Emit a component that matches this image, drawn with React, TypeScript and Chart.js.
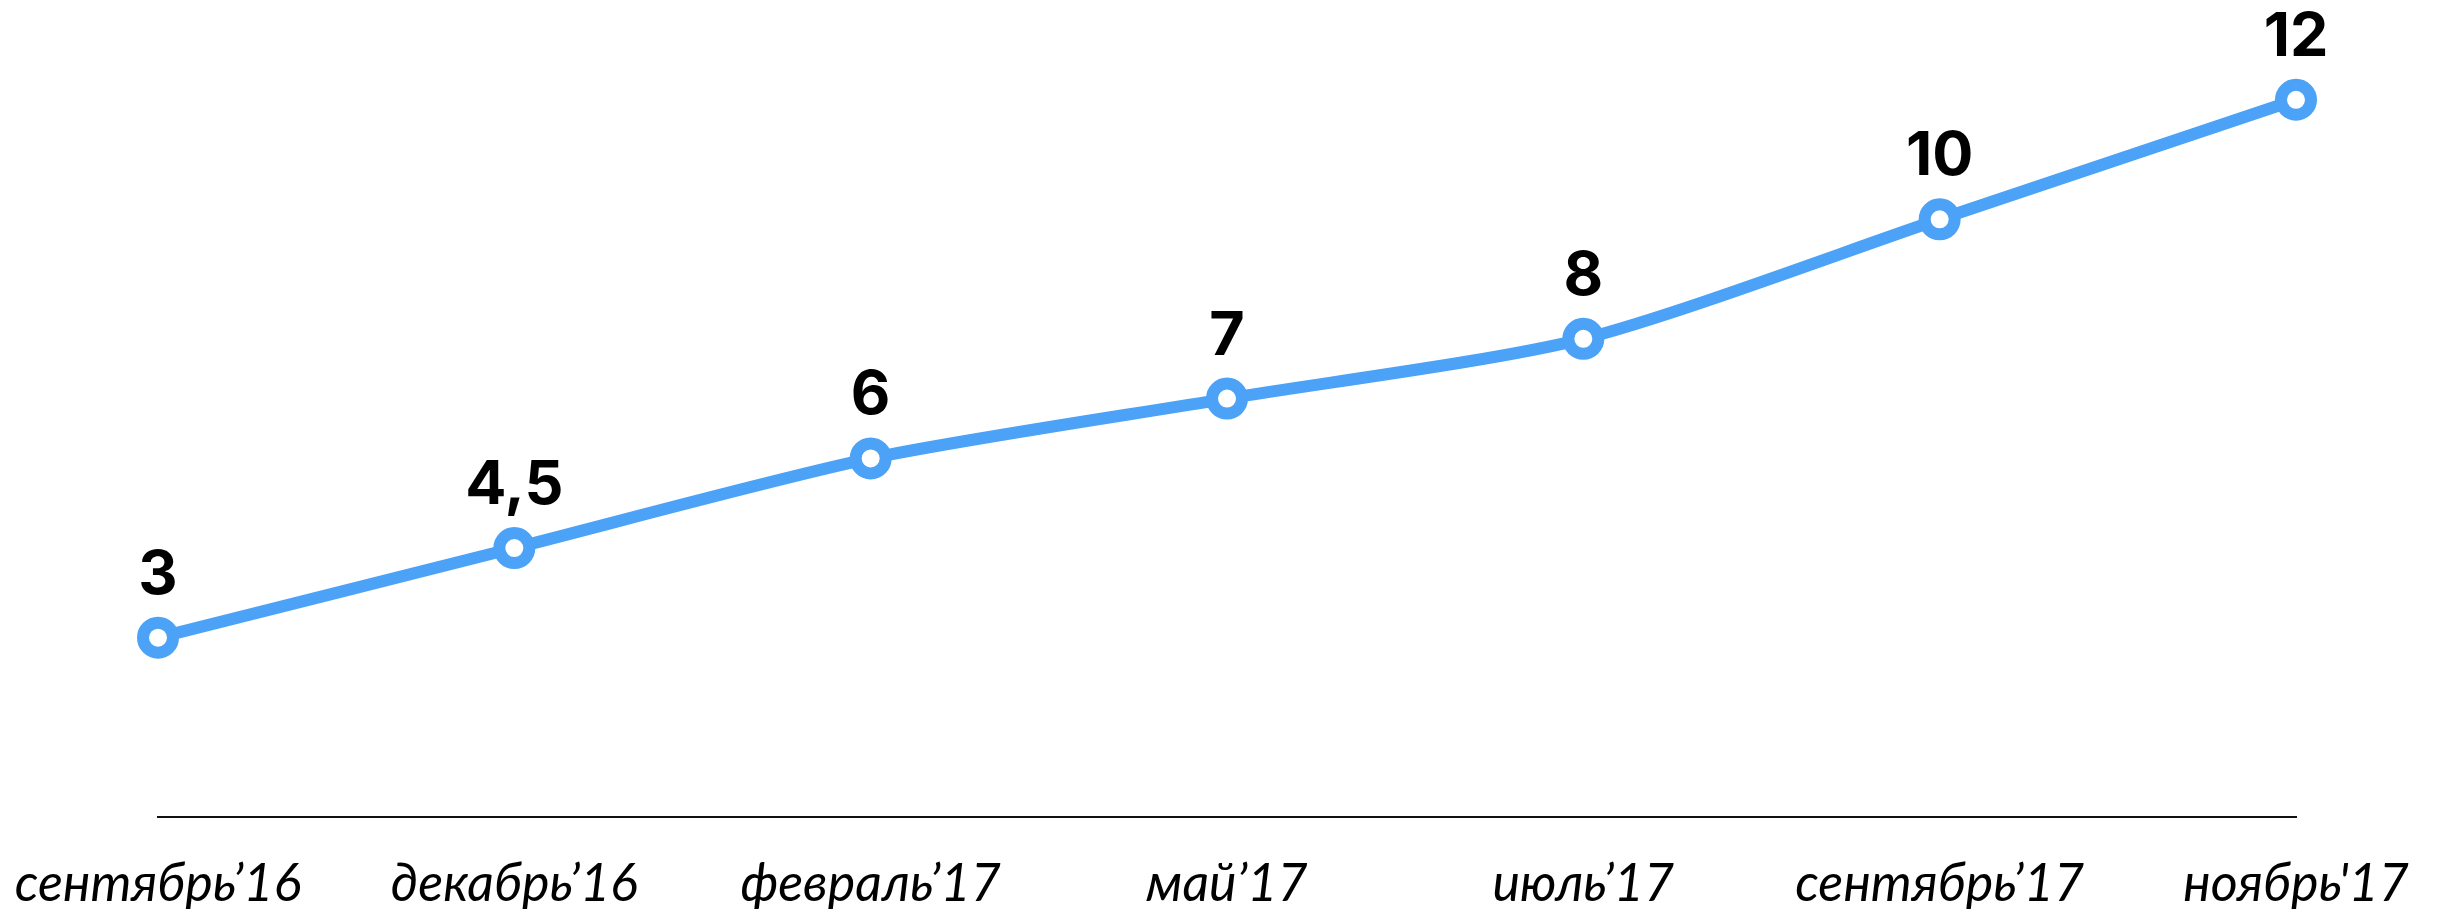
import React, { useEffect, useRef } from "react";
import { Chart, registerables } from "chart.js";

Chart.register(...registerables);

const categories = ["сентябрь’16", "декабрь’16", "февраль’17", "май’17", "июль’17", "сентябрь’17", "ноябрь'17"];
const values = [3, 4.5, 6, 7, 8, 10, 12];
const valueLabels = ["3", "4,5", "6", "7", "8", "10", "12"];

const BLUE = "#4ba2f7";

const pointLabelPlugin = {
  id: "pointLabels",
  afterDatasetsDraw(chart: any) {
    const ctx = chart.ctx;
    const meta = chart.getDatasetMeta(0);
    ctx.save();
    ctx.fillStyle = "#000";
    ctx.font = "700 61px Inter";
    ctx.textAlign = "center";
    ctx.textBaseline = "alphabetic";
    meta.data.forEach((el: any, i: number) => {
      ctx.fillText(valueLabels[i], el.x, el.y - 44);
    });
    ctx.restore();
  },
};

export default function App() {
  const ref = useRef<HTMLCanvasElement>(null);
  useEffect(() => {
    document.body.style.margin = "0";
    const chart = new Chart(ref.current!, {
      type: "line",
      data: {
        labels: categories,
        datasets: [
          {
            data: values,
            borderColor: BLUE,
            borderWidth: 12,
            tension: 0.25,
            pointRadius: 15,
            pointBorderWidth: 12,
            pointBorderColor: BLUE,
            pointBackgroundColor: "#fff",
            fill: false,
          },
        ],
      },
      options: {
        responsive: false,
        animation: false,
        layout: { padding: { left: 158, right: 142, top: 40, bottom: 0 } },
        plugins: { legend: { display: false }, tooltip: { enabled: false } },
        scales: {
          x: {
            offset: false,
            grid: { display: false },
            border: { display: true, color: "#111", width: 2 },
            afterFit: (scale: any) => {
              scale.height = 92;
              scale.paddingLeft = 0;
              scale.paddingRight = 0;
            },
            ticks: {
              color: "#000",
              padding: 28,
              font: { family: "Lato", style: "italic", size: 52, lineHeight: 1.2 },
              maxRotation: 0,
              autoSkip: false,
            },
          },
          y: { display: false, min: 0, max: 13 },
        },
      },
      plugins: [pointLabelPlugin],
    });
    return () => chart.destroy();
  }, []);
  return (
    <div style={{ width: 2438, height: 909 }}>
      <canvas ref={ref} width={2438} height={909} style={{ display: "block" }} />
    </div>
  );
}
